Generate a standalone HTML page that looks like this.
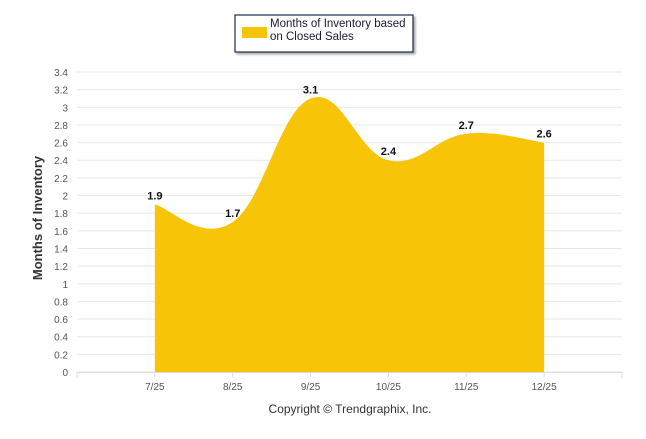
<!DOCTYPE html>
<html><head><meta charset="utf-8"><style>
body{margin:0;background:#fff;width:646px;height:434px;overflow:hidden;font-family:"Liberation Sans",sans-serif}
</style></head><body>
<svg width="646" height="434" id="svg" font-family="Liberation Sans, sans-serif">
<g>
<rect x="235" y="15" width="178" height="37" fill="#fff" stroke="#1f2d4d" stroke-width="1.2" style="filter:drop-shadow(2px 2px 1px #aaa)"/>
<rect x="242" y="27" width="25" height="11" fill="#f7c407"/>
<text x="270" y="27" font-size="11.5" fill="#1a1a33">Months of Inventory based</text>
<text x="270" y="40" font-size="11.5" fill="#1a1a33">on Closed Sales</text>
</g>
<g id="grid"></g>
<path id="area" fill="#f7c407"/>
<g id="labels"></g>
<text transform="translate(42,218) rotate(-90)" text-anchor="middle" font-size="13" font-weight="bold" fill="#333">Months of Inventory</text>
<text x="350" y="413" text-anchor="middle" font-size="12" fill="#333">Copyright © Trendgraphix, Inc.</text>
</svg>
<script>
const categories=["7/25","8/25","9/25","10/25","11/25","12/25"];
const values=[1.9,1.7,3.1,2.4,2.7,2.6];
const yTicks=[0,0.2,0.4,0.6,0.8,1,1.2,1.4,1.6,1.8,2,2.2,2.4,2.6,2.8,3,3.2,3.4];
const ns="http://www.w3.org/2000/svg";
const L=77,R=622,T=72,B=372,yMax=3.4;
const step=(R-L)/(categories.length+1);
const xs=i=>L+step*(i+1);
const ys=v=>B-(v/yMax)*(B-T);
const grid=document.getElementById('grid'),lab=document.getElementById('labels');
function mk(tag,attrs,parent,txt){const e=document.createElementNS(ns,tag);for(const k in attrs)e.setAttribute(k,attrs[k]);if(txt!==undefined)e.textContent=txt;parent.appendChild(e);return e;}
yTicks.forEach(t=>{
 const l=mk('line',{x1:L,x2:R,y1:ys(t),y2:ys(t),stroke:'#e8e8e8'},grid);
 
 
 const tx=mk('text',{x:68,y:ys(t)+4,'text-anchor':'end','font-size':'10',fill:'#555'},grid,String(t));
 
 
});
mk('line',{x1:L,x2:R,y1:B+0.5,y2:B+0.5,stroke:'#ddd'},grid);
[L,R].forEach(x=>mk('line',{x1:x,x2:x,y1:B,y2:B+6,stroke:'#ddd'},grid));
categories.forEach((c,i)=>{
 mk('line',{x1:xs(i),x2:xs(i),y1:B,y2:B+5,stroke:'#ddd'},grid);
 const tx=mk('text',{x:xs(i),y:B+18,'text-anchor':'middle','font-size':'10',fill:'#555'},grid,c);
 
 
 const v=mk('text',{x:xs(i),y:ys(values[i])-5,'text-anchor':'middle','font-size':'11','font-weight':'bold',fill:'#111'},lab,String(values[i]));
 
 
});
// cardinal spline (allows slight overshoot like reference)
const P=values.map((v,i)=>[xs(i),ys(v)]);
const k=0.2;
let d=`M${P[0][0]},${B} L${P[0][0]},${P[0][1]}`;
for(let i=1;i<P.length;i++){
 const p0=P[Math.max(0,i-2)],p1=P[i-1],p2=P[i],p3=P[Math.min(P.length-1,i+1)];
 const a=[p1[0]+(p2[0]-p0[0])*k,p1[1]+(p2[1]-p0[1])*k];
 const b=[p2[0]-(p3[0]-p1[0])*k,p2[1]-(p3[1]-p1[1])*k];
 d+=` C${a[0]},${a[1]} ${b[0]},${b[1]} ${p2[0]},${p2[1]}`;
}
d+=` L${P[P.length-1][0]},${B} Z`;
document.getElementById('area').setAttribute('d',d);
</script>
</body></html>
